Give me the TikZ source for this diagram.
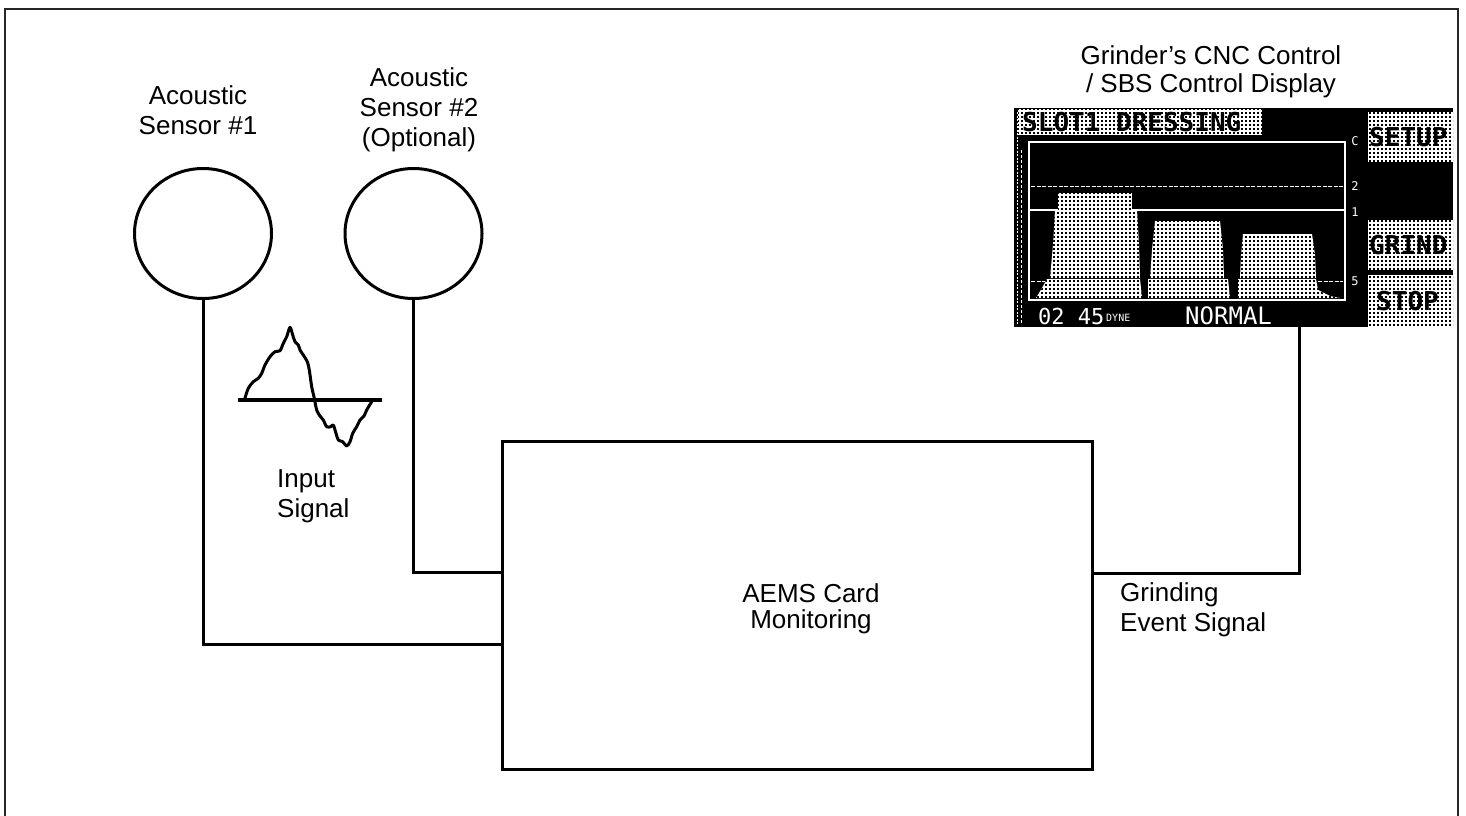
\documentclass[tikz,border=0pt]{standalone}
\usepackage{fontspec}
\setmainfont{Liberation Sans}
\newfontfamily\dispfont{DejaVu Sans Mono}
\usetikzlibrary{patterns,shapes.geometric}
\pgfdeclarepatternformonly{scrdots}{\pgfqpoint{-0.1pt}{-0.1pt}}{\pgfqpoint{4.1pt}{4.1pt}}{\pgfqpoint{4pt}{4pt}}{%
  \pgfpathrectangle{\pgfqpoint{1pt}{1pt}}{\pgfqpoint{2.1pt}{2.1pt}}\pgfusepath{fill}}
\tikzset{
  lbl/.style={font=\fontsize{26}{30}\selectfont, align=center, inner sep=0pt},
  lbll/.style={font=\fontsize{26}{30}\selectfont, align=left, inner sep=0pt, anchor=west},
  sensor/.style={draw, ellipse, line width=3pt, minimum width=137pt, minimum height=130pt, inner sep=0pt},
  wire/.style={line width=3pt},
  framel/.style={line width=2.5pt, black!85},
  hatch/.style={preaction={fill=white}, pattern=scrdots, pattern color=black},
  scrline/.style={white, line width=1.2pt},
  scrdash/.style={white, line width=1pt, dash pattern=on 4pt off 1.5pt},
  hatchtxt/.style={text=black, font=\dispfont\bfseries\fontsize{26}{26}\selectfont, inner sep=0pt, anchor=west},
  disptxt/.style={text=white, font=\dispfont\fontsize{22}{22}\selectfont, inner sep=0pt, anchor=west},
  ticktxt/.style={text=white, font=\dispfont\fontsize{12}{12}\selectfont, inner sep=0pt},
}
\begin{document}
\begin{tikzpicture}[x=1pt,y=-1pt]
\useasboundingbox (0,0) rectangle (1466,815);
% outer frame
\draw[framel] (5,830) -- (5,9) -- (1458,9) -- (1458,830);

% sensors
\node[sensor] (s1) at (203,233.5) {};
\node[sensor] (s2) at (413.5,233.5) {};
\node[lbl] (l1) at (198,110.5) {Acoustic\\Sensor \#1};
\node[lbl] (l2) at (419,110) {Acoustic\\Sensor \#2\\(Optional)};

% input signal
\draw[line width=4pt] (238,400) -- (382,400);
\draw[line width=3pt, line join=round, line cap=round] plot[smooth, tension=0.5] coordinates {
 (245,398) (248.3,388.3) (253.3,381.7) (258.3,378.3) (261.7,373.3) (265,365) (270,356.7)
 (275,351.7) (280,350.7) (283.3,343.3) (286.7,336.7) (290,327.3) (292.7,335) (295,341.7)
 (298.3,345) (300,350) (303.3,355) (307.3,361.7) (309.3,370) (311.7,386.7) (314.3,398.3)
 (316.7,410) (320,416) (323.3,420) (326.7,426.7) (330.7,426.7) (333.3,425) (336,433.3)
 (338.3,440) (342.7,441.7) (346.7,446) (350,441.7) (352.7,433.3) (356.7,426.7) (360,420)
 (364,416) (366.7,410) (371.7,401.7)};
\node[lbll] (insig) at (277,496) {Input\\Signal};

% AEMS card
\node[draw, wire, minimum width=590pt, minimum height=328pt, inner sep=0pt] (card) at (797,605) {};
\node[lbl, font=\fontsize{26}{25.5}\selectfont] (cardtxt) at (811,609) {AEMS Card\\Monitoring};

% display
\node[lbl, font=\fontsize{26}{28}\selectfont] (dlbl) at (1211,72) {Grinder’s CNC Control\\/ SBS Control Display};
\node[fill=black, minimum width=439pt, minimum height=219pt, inner sep=0pt] (disp) at (1233.5,217.5) {};
\begin{scope}
\clip (disp.south west) rectangle (disp.north east);
\draw[white, line width=1pt, dash pattern=on 2pt off 1.5pt] (1017,112) -- (1017,325);
\draw[white, line width=1pt, dash pattern=on 3pt off 2pt] (1021,150) -- (1021,325);
\fill[hatch] (1018,109) rectangle (1262,135);
\node[hatchtxt] (ttl) at (1022,122) {SLOT1 DRESSING};
% graph
\draw[scrline] (1029,142) rectangle (1345,300);
\draw[scrdash] (1031,186) -- (1343,186);
\draw[scrline] (1029,210) -- (1345,210);
\fill[hatch] (1058,193) rectangle (1132,209);
\fill[hatch] (1055,210) -- (1137,210) -- (1139,245) -- (1140,278) -- (1050,278) -- (1053,245) -- cycle;
\fill[hatch] (1155,221) -- (1220,221) -- (1223,250) -- (1224,278) -- (1150,278) -- (1152,250) -- cycle;
\fill[hatch] (1243,234) -- (1312,234) -- (1315,255) -- (1316,278) -- (1240,278) -- (1241,255) -- cycle;
\fill[hatch] (1036,298) -- (1042,288) -- (1047,279) -- (1140,279) -- (1142,298) -- cycle;
\fill[hatch] (1148,298) -- (1148,279) -- (1228,279) -- (1230,298) -- cycle;
\fill[hatch] (1238,298) -- (1238,279) -- (1316,279) -- (1318,290) -- (1330,296) -- (1340,298) -- cycle;
\draw[scrdash] (1318,281) -- (1343,281);
\draw[scrdash] (1031,281) -- (1045,281);
\node[ticktxt] (t0) at (1355,141) {C};
\node[ticktxt] (t2) at (1355,186) {2};
\node[ticktxt] (t1) at (1355,212) {1};
\node[ticktxt] (t5) at (1355,281) {5};
% buttons
\fill[hatch] (1368,112) rectangle (1460,162);
\node[hatchtxt] (bsetup) at (1369,137) {SETUP};
\fill[hatch] (1368,220) rectangle (1460,270);
\node[hatchtxt] (bgrind) at (1369,245) {GRIND};
\fill[hatch] (1368,275) rectangle (1460,330);
\node[hatchtxt] (bstop) at (1376,301) {STOP};
% bottom status line
\node[disptxt] (st1) at (1038,316) {02 45};
\node[disptxt, font=\dispfont\fontsize{10}{10}\selectfont] (st2) at (1106,318) {DYNE};
\node[disptxt, font=\dispfont\fontsize{24}{24}\selectfont] (st3) at (1185,316) {NORMAL};
\end{scope}
\node[lbll] (gev) at (1120,610) {Grinding\\Event Signal};

% connectors
\draw[wire] (s1.south) |- (card.west |- 0,644);
\draw[wire] (s2.south) |- (card.west |- 0,572);
\draw[wire] (disp.south -| 1299,0) |- (card.east |- 0,573);
\end{tikzpicture}
\end{document}
